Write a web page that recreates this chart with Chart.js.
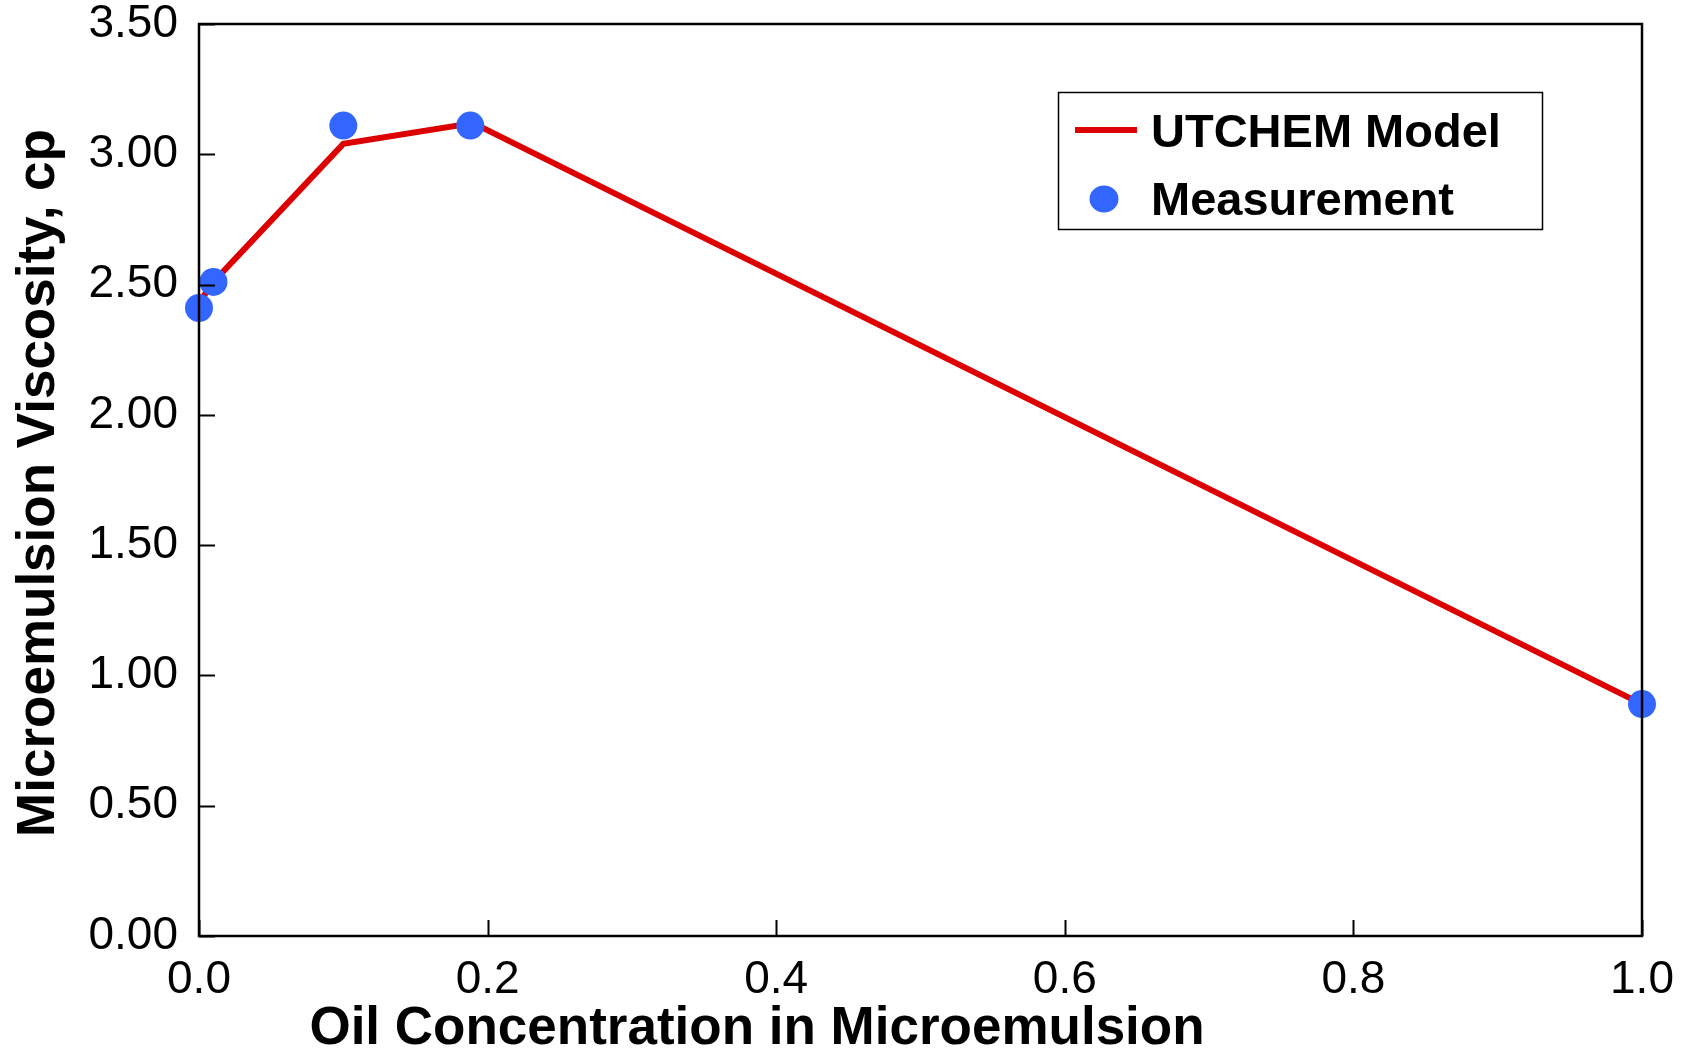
<!DOCTYPE html>
<html>
<head>
<meta charset="utf-8">
<script src="https://cdn.jsdelivr.net/npm/chart.js@4.4.1/dist/chart.umd.min.js"></script>
<style>
  html, body { margin: 0; padding: 0; background: #fff; }
  #wrap { width: 1696px; height: 1051px; }
</style>
</head>
<body>
<div id="wrap"><canvas id="myChart" width="1696" height="1051"></canvas></div>
<script>
// data
var modelX = [0.0, 0.01, 0.10, 0.19, 1.0];
var modelY = [2.43, 2.51, 3.04, 3.12, 0.89];
var measX = [0.0, 0.01, 0.10, 0.188, 1.0];
var measY = [2.41, 2.51, 3.11, 3.11, 0.89];
var seriesNames = ["UTCHEM Model", "Measurement"];
var xTitle = "Oil Concentration in Microemulsion";
var yTitle = "Microemulsion Viscosity, cp";

var FONT = "'Liberation Sans', Arial, sans-serif";
var RED = "#dd0000";
var BLUE = "#3366ff";

function pairs(xs, ys) {
    return xs.map(function (x, i) { return { x: x, y: ys[i] }; });
}

// frame, inward ticks, axis titles and legend box
var decor = {
    id: "decor",
    afterDraw: function (chart) {
        var ctx = chart.ctx;
        var a = chart.chartArea;
        var xs = chart.scales.x;
        var ys = chart.scales.y;
        ctx.save();
        ctx.strokeStyle = "#000";
        ctx.lineWidth = 2;
        ys.ticks.forEach(function (t) {
            var py = Math.round(ys.getPixelForValue(t.value)) + 0.5;
            ctx.beginPath();
            ctx.moveTo(a.left, py);
            ctx.lineTo(a.left + 16, py);
            ctx.stroke();
        });
        xs.ticks.forEach(function (t) {
            var px = Math.round(xs.getPixelForValue(t.value)) + 0.5;
            ctx.beginPath();
            ctx.moveTo(px, a.bottom);
            ctx.lineTo(px, a.bottom - 16);
            ctx.stroke();
        });
        ctx.lineWidth = 2.5;
        ctx.strokeRect(a.left, a.top, a.right - a.left, a.bottom - a.top);

        // axis titles
        ctx.fillStyle = "#000";
        ctx.font = "bold 53px " + FONT;
        ctx.textAlign = "center";
        ctx.textBaseline = "alphabetic";
        ctx.fillText(xTitle, 757, 1044);
        ctx.save();
        ctx.translate(54, (a.top + a.bottom) / 2 + 3);
        ctx.rotate(-Math.PI / 2);
        ctx.fillText(yTitle, 0, 0);
        ctx.restore();

        // legend
        ctx.fillStyle = "#fff";
        ctx.fillRect(1058, 92, 484, 137);
        ctx.lineWidth = 1.5;
        ctx.strokeStyle = "#000";
        ctx.strokeRect(1058.5, 92.5, 484, 137);
        ctx.strokeStyle = RED;
        ctx.lineWidth = 6;
        ctx.beginPath();
        ctx.moveTo(1075, 130);
        ctx.lineTo(1137, 130);
        ctx.stroke();
        ctx.fillStyle = BLUE;
        ctx.beginPath();
        ctx.ellipse(1104, 199, 14.5, 13.5, 0, 0, Math.PI * 2);
        ctx.fill();
        ctx.fillStyle = "#000";
        ctx.font = "bold 47px " + FONT;
        ctx.textAlign = "left";
        ctx.textBaseline = "middle";
        ctx.fillText(seriesNames[0], 1151, 134);
        ctx.fillText(seriesNames[1], 1151, 202);
        ctx.restore();
    }
};

new Chart("myChart", {
    type: "scatter",
    data: {
        datasets: [
            {
                label: seriesNames[1],
                data: pairs(measX, measY),
                backgroundColor: BLUE,
                borderWidth: 0,
                pointRadius: 14,
                pointHoverRadius: 14,
                clip: false,
                order: 0
            },
            {
                label: seriesNames[0],
                type: "line",
                data: pairs(modelX, modelY),
                borderColor: RED,
                borderWidth: 6,
                pointRadius: 0,
                fill: false,
                tension: 0,
                clip: false,
                order: 1
            }
        ]
    },
    options: {
        responsive: false,
        animation: false,
        layout: { padding: { left: 0, right: 54, top: 24, bottom: 0 } },
        plugins: {
            legend: { display: false },
            tooltip: { enabled: false }
        },
        scales: {
            x: {
                type: "linear",
                min: 0,
                max: 1,
                grid: { display: false },
                border: { display: false },
                ticks: {
                    stepSize: 0.2,
                    color: "#000",
                    padding: 9,
                    font: { family: FONT, size: 46 },
                    maxRotation: 0,
                    callback: function (v) { return v.toFixed(1); }
                },
                afterFit: function (s) { s.height = 115; }
            },
            y: {
                min: 0,
                max: 3.5,
                grid: { display: false },
                border: { display: false },
                ticks: {
                    stepSize: 0.5,
                    color: "#000",
                    padding: 13,
                    font: { family: FONT, size: 46 },
                    callback: function (v) { return v.toFixed(2); }
                },
                afterFit: function (s) {
                    s.width = 199;
                    s.paddingTop = 0;
                    s.paddingBottom = 0;
                }
            }
        }
    },
    plugins: [decor]
});
</script>
</body>
</html>
